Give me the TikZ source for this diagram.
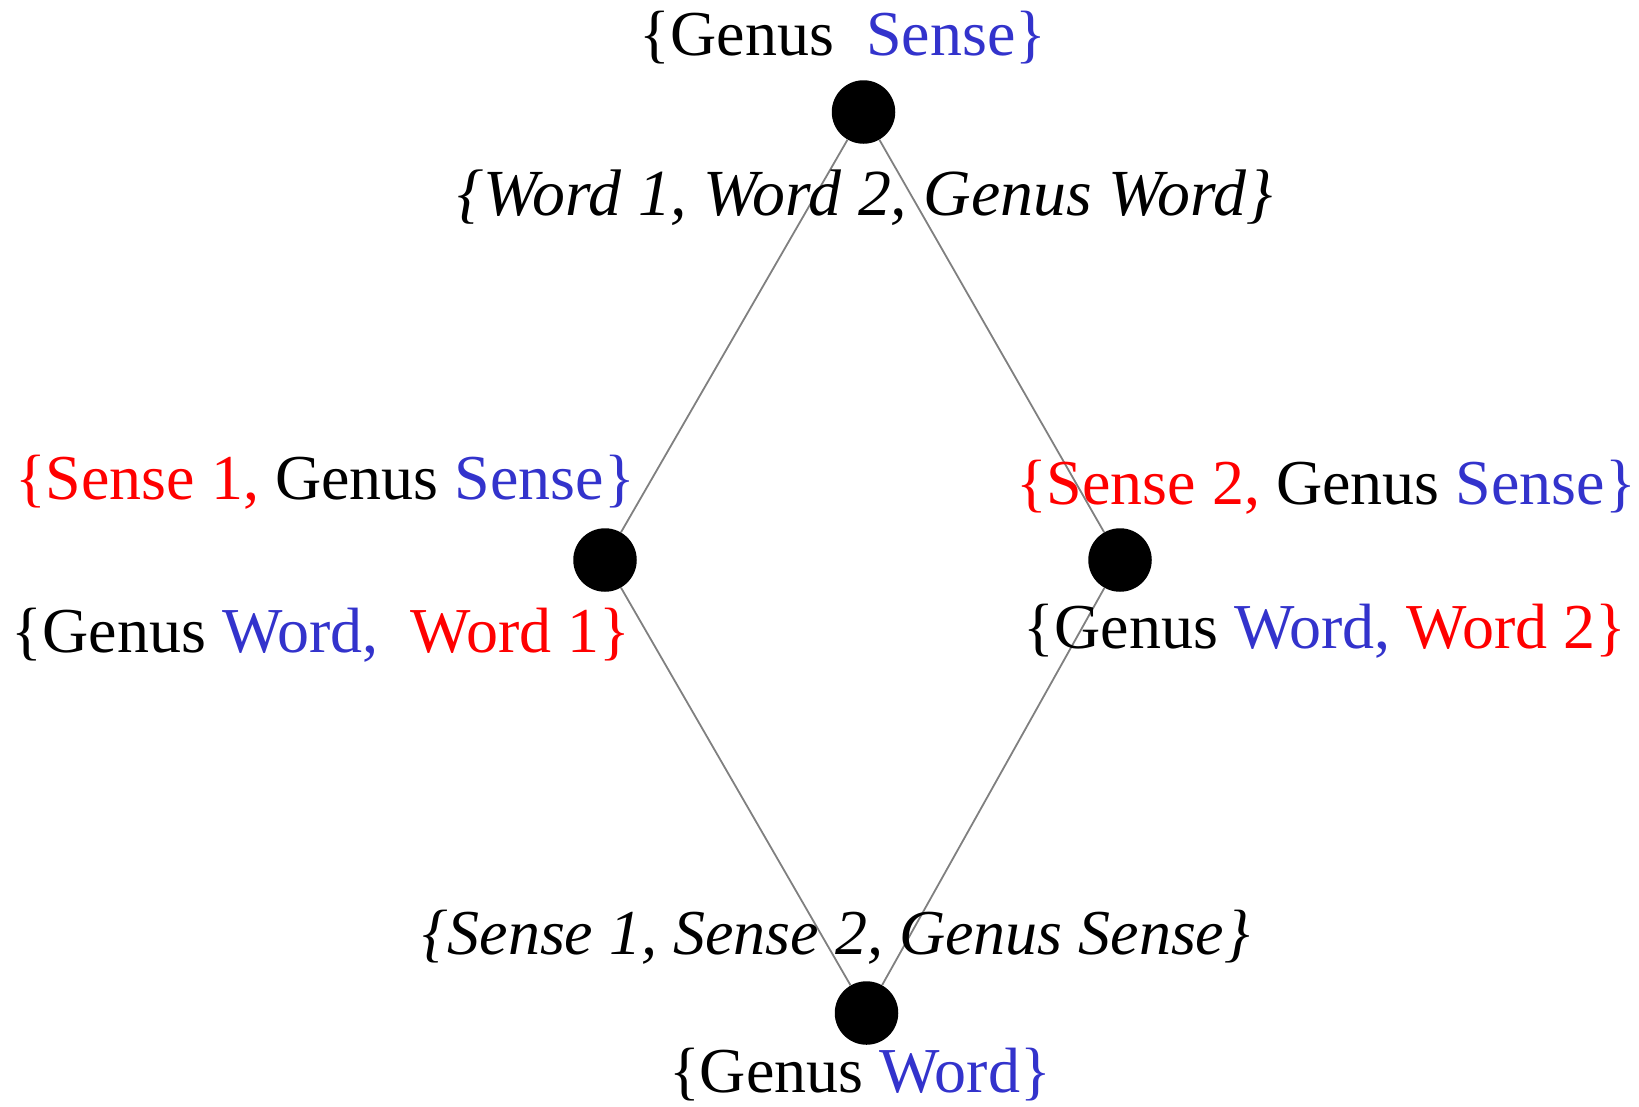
\documentclass[tikz,border=0pt]{standalone}
\usepackage{fontspec}
\setmainfont{Liberation Serif}
\definecolor{bl}{RGB}{51,51,204}
\definecolor{rd}{RGB}{255,0,0}
\definecolor{ln}{RGB}{128,128,128}
\tikzset{
  dot/.style={circle,fill=black,inner sep=0pt,minimum size=63.5bp},
  lbl/.style={inner sep=0pt,anchor=base,font=\fontsize{64bp}{72bp}\selectfont},
  ilbl/.style={inner sep=0pt,anchor=base,font=\fontsize{65.8bp}{72bp}\selectfont\itshape},
  ilblb/.style={inner sep=0pt,anchor=base,font=\fontsize{64bp}{72bp}\selectfont\itshape},
  edge/.style={draw=ln,line width=1.8bp}
}
\begin{document}
\begin{tikzpicture}[x=1bp,y=-1bp]
\useasboundingbox (0,0) rectangle (1639,1106);
\node[dot] (top) at (863.5,112) {};
\node[dot] (left) at (605,560) {};
\node[dot] (right) at (1120,560) {};
\node[dot] (bot) at (866.5,1013) {};
\draw[edge] (top) -- (left);
\draw[edge] (top) -- (right);
\draw[edge] (left) -- (bot);
\draw[edge] (right) -- (bot);
\node[lbl] (ttop) at (843,55) {\{Genus\ \ \textcolor{bl}{Sense\}}};
\node[ilbl] (itop) at (865,215) {\{Word 1, Word 2, Genus Word\}};
\node[lbl] (lup) at (325,499) {\textcolor{rd}{\{Sense 1,} Genus \textcolor{bl}{Sense\}}};
\node[lbl] (llo) at (321,652) {\{Genus \textcolor{bl}{Word,}\ \ \textcolor{rd}{Word 1\}}};
\node[lbl] (rup) at (1326,504) {\textcolor{rd}{\{Sense 2,} Genus \textcolor{bl}{Sense\}}};
\node[lbl] (rlo) at (1325,648) {\{Genus \textcolor{bl}{Word,} \textcolor{rd}{Word 2\}}};
\node[ilblb] (ibot) at (836,954) {\{Sense 1, Sense 2, Genus Sense\}};
\node[lbl] (tbot) at (860,1092) {\{Genus \textcolor{bl}{Word\}}};
\end{tikzpicture}
\end{document}
